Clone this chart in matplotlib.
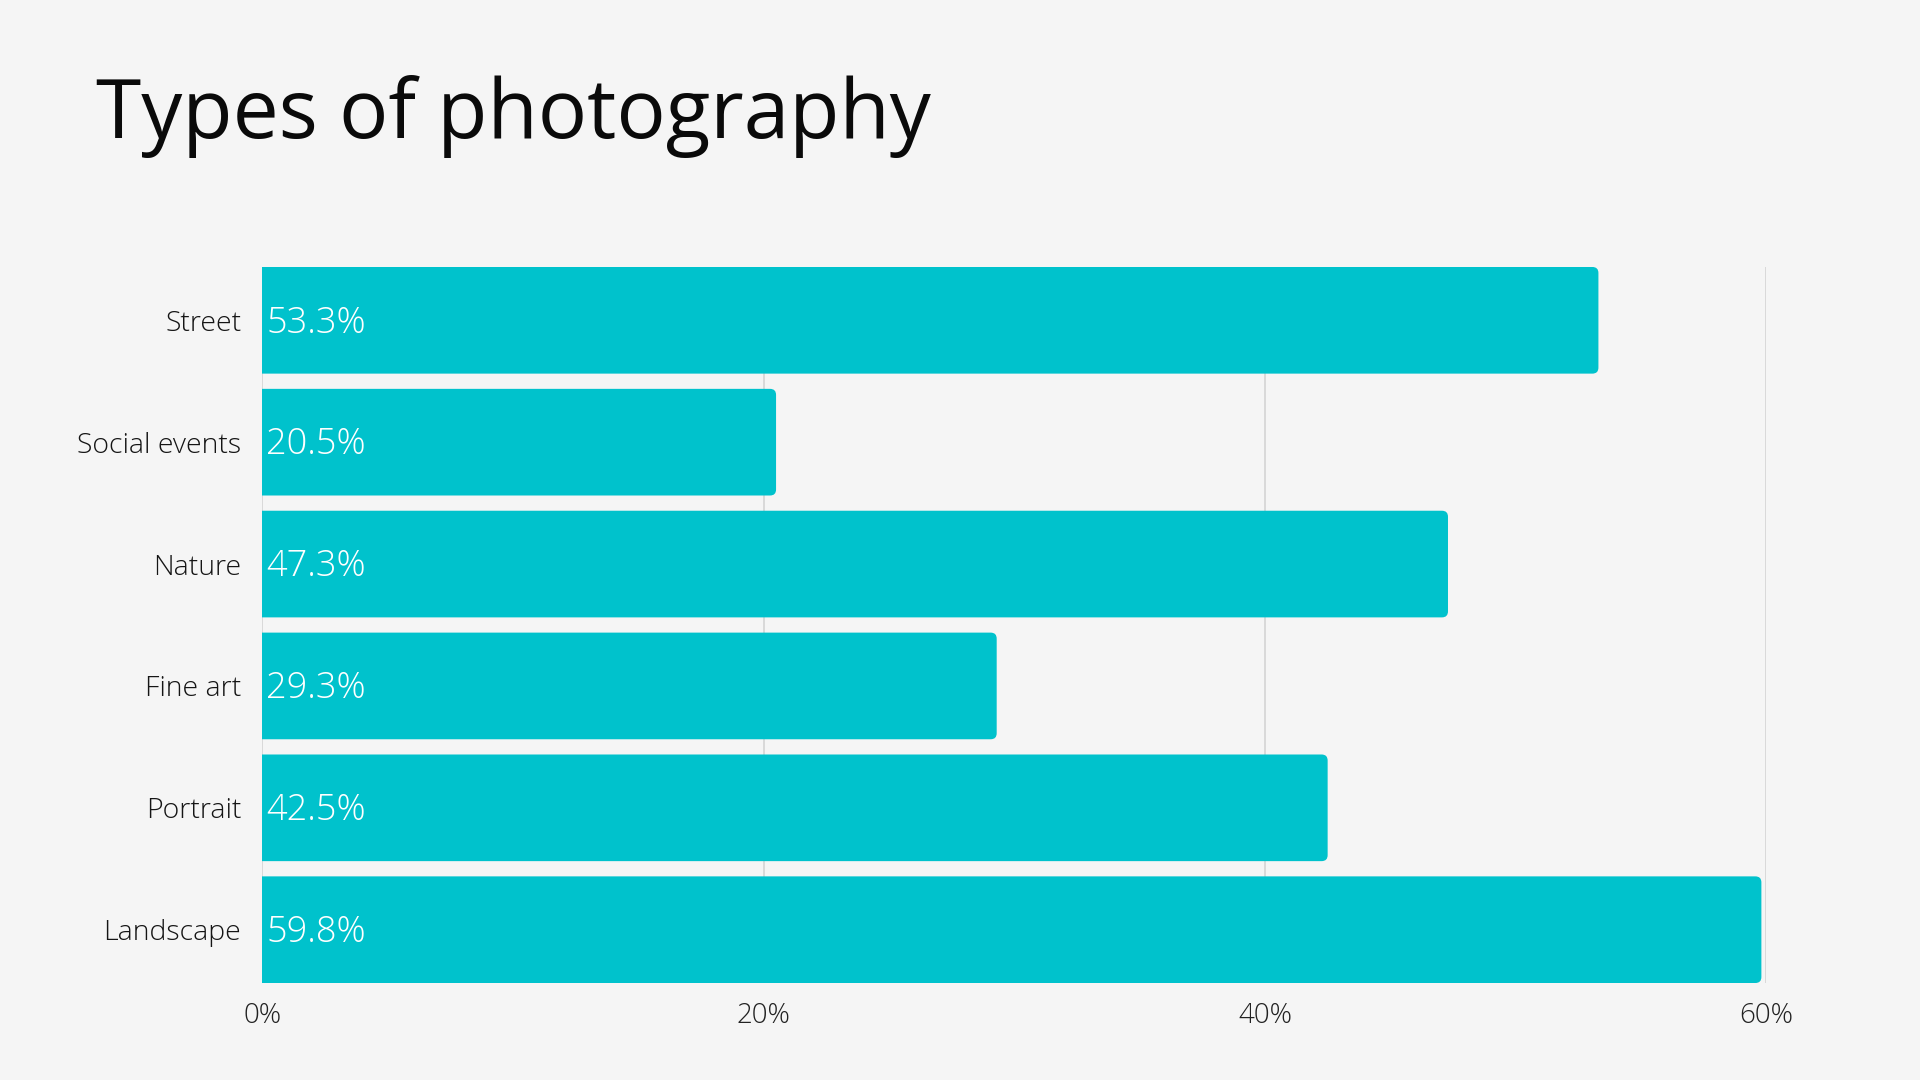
import matplotlib.pyplot as plt
from matplotlib.patches import FancyBboxPatch
from matplotlib.ticker import FuncFormatter

categories = ["Street", "Social events", "Nature", "Fine art", "Portrait", "Landscape"]
values = [53.3, 20.5, 47.3, 29.3, 42.5, 59.8]
xticks = [0, 20, 40, 60]

bg = "#f5f5f5"
bar_color = "#00c2cc"
plt.rcParams['font.family'] = ['Open Sans', 'DejaVu Sans']

fig = plt.figure(figsize=(19.2, 10.8), dpi=100, facecolor=bg)
ax = fig.add_axes([0.1365, 0.0898, 0.7835, 0.663])
ax.set_facecolor(bg)

n = len(categories)
ypos = list(range(n))[::-1]
h = 0.875

ax.set_xlim(0, 60)
ax.set_ylim(-h / 2, n - 1 + h / 2)

# bar rounding: convert pixel radius to data units
fig.canvas.draw()
bbox = ax.get_window_extent()
x_per_px = 60 / bbox.width
y_per_px = (n - 1 + h) / bbox.height
r_px = 6
r = r_px * x_per_px

bars = ax.barh(ypos, values, height=h, color=bar_color, alpha=0)
for y, v in zip(ypos, values):
    p = FancyBboxPatch((-2 * r, y - h / 2), v + 2 * r, h,
                       boxstyle=f"round,pad=0,rounding_size={r}",
                       mutation_aspect=y_per_px / x_per_px,
                       facecolor=bar_color, edgecolor="none", zorder=3)
    ax.add_patch(p)
    ax.annotate(f"{v}%", (0, y), xytext=(3, -2), textcoords="offset points",
                va="center", ha="left", color="white", fontsize=26,
                fontweight="light", zorder=4)

ax.set_yticks(ypos)
ax.set_yticklabels(categories)
ax.set_xticks(xticks)
ax.xaxis.set_major_formatter(FuncFormatter(lambda x, _: f"{x:.0f}%"))
ax.tick_params(axis="y", length=0, pad=15, labelsize=20.5, labelcolor="#151515")
ax.tick_params(axis="x", length=0, pad=14, labelsize=20, labelcolor="#222222")
for lab in ax.get_yticklabels() + ax.get_xticklabels():
    lab.set_fontweight("light")
ax.grid(axis="x", color="#d4d4d4", linewidth=1.2, zorder=0)
ax.set_axisbelow(True)
for s in ax.spines.values():
    s.set_visible(False)

fig.text(96 / 1920, 1 - 138 / 1080, "Types of photography", fontsize=59,
         color="#0a0a0a", ha="left", va="baseline")

fig.savefig("out.png", dpi=100, facecolor=bg)
